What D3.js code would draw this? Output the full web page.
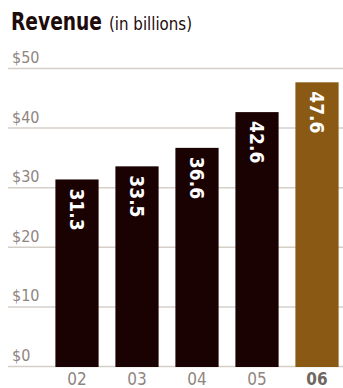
<!DOCTYPE html>
<html>
<head>
<meta charset="utf-8">
<script src="https://cdn.jsdelivr.net/npm/d3@7"></script>
<style>
  html, body { margin: 0; padding: 0; background: #ffffff; }
  svg { display: block; }
  text { font-family: "DejaVu Sans Condensed", "DejaVu Sans", sans-serif; font-stretch: condensed; }
</style>
</head>
<body>
<svg id="chart" width="343" height="388"></svg>
<script>
// Annual revenue, in billions of dollars
const years = ["02", "03", "04", "05", "06"];
const revenue = [31.3, 33.5, 36.6, 42.6, 47.6];
const yTicks = [0, 10, 20, 30, 40, 50];
const tickLabels = ["$0", "$10", "$20", "$30", "$40", "$50"];
const highlightYear = "06";

const svg = d3.select("#chart");
const W = 343, H = 388;

const x = d3.scaleBand()
  .domain(years)
  .range([47, 347])
  .paddingInner(0.28)
  .paddingOuter(0.14);

const y = d3.scaleLinear()
  .domain([0, 50])
  .range([366, 68]);

// Title: bold heading plus a lighter unit note, both set narrow
svg.append("text")
  .attr("x", 11)
  .attr("y", 30)
  .attr("fill", "#1e0b0b")
  .attr("font-size", 24)
  .attr("font-weight", "bold")
  .attr("textLength", 91)
  .attr("lengthAdjust", "spacingAndGlyphs")
  .text("Revenue");
svg.append("text")
  .attr("x", 109)
  .attr("y", 30)
  .attr("fill", "#1e0b0b")
  .attr("font-size", 17)
  .attr("textLength", 83)
  .attr("lengthAdjust", "spacingAndGlyphs")
  .text("(in billions)");

// Horizontal gridlines with dollar labels sitting above them
const grid = svg.append("g");
yTicks.forEach((t, i) => {
  grid.append("line")
    .attr("x1", 8).attr("x2", W)
    .attr("y1", y(t) + 0.5).attr("y2", y(t) + 0.5)
    .attr("stroke", "#d6cfc8")
    .attr("stroke-width", 1.5);
  grid.append("text")
    .attr("x", 12)
    .attr("y", y(t) - 5)
    .attr("font-size", 16)
    .attr("fill", "#8f8580")
    .text(tickLabels[i]);
});

// Bars
const data = years.map((yr, i) => ({ yr, v: revenue[i] }));
svg.append("g").selectAll("rect")
  .data(data)
  .join("rect")
  .attr("x", d => x(d.yr))
  .attr("width", x.bandwidth())
  .attr("y", d => y(d.v))
  .attr("height", d => y(0) - y(d.v) + 1)
  .attr("fill", d => d.yr === highlightYear ? "#8a5a14" : "#1b0202");

// Value labels, rotated to read downward from the top of each bar
svg.append("g").selectAll("text")
  .data(data)
  .join("text")
  .attr("transform", d => `translate(${x(d.yr) + x.bandwidth() / 2},${y(d.v) + 9}) rotate(90)`)
  .attr("text-anchor", "start")
  .attr("dominant-baseline", "central")
  .attr("font-size", 19)
  .attr("font-weight", "bold")
  .attr("fill", "#ffffff")
  .text(d => d.v.toFixed(1));

// Year labels along the bottom
svg.append("g").selectAll("text")
  .data(years)
  .join("text")
  .attr("x", d => x(d) + x.bandwidth() / 2)
  .attr("y", 385)
  .attr("text-anchor", "middle")
  .attr("font-size", 17)
  .attr("font-weight", d => d === highlightYear ? "bold" : "normal")
  .attr("fill", d => d === highlightYear ? "#6f6660" : "#8f8580")
  .text(d => d);
</script>
</body>
</html>
